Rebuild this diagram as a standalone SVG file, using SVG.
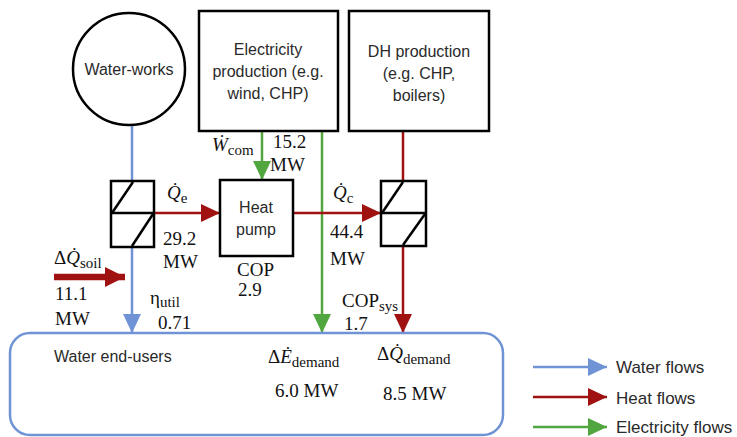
<svg xmlns="http://www.w3.org/2000/svg" width="737" height="437" viewBox="0 0 737 437">
<style>
.box{fill:#fff;stroke:#000;stroke-width:2.5}
.hx{fill:none;stroke:#000;stroke-width:2.5}
.sans{font-family:"Liberation Sans",Arial,sans-serif;font-size:16px;fill:#2a2a2a}
.leg{font-size:17px}
.ser{font-family:"Liberation Serif","DejaVu Serif",serif;font-size:19px;fill:#111}
.it{font-style:italic}
.sub{font-size:15px}
.w{stroke:#6f93d5;stroke-width:2.5;fill:none}
.h{stroke:#a01212;stroke-width:2.5;fill:none}
.e{stroke:#52a640;stroke-width:2.5;fill:none}
</style>
<defs>
<marker id="aw" markerUnits="userSpaceOnUse" markerWidth="20" markerHeight="18" refX="19" refY="9" orient="auto"><path d="M0,0 L19,9 L0,18 z" fill="#6f93d5"/></marker>
<marker id="ah" markerUnits="userSpaceOnUse" markerWidth="20" markerHeight="18" refX="19" refY="9" orient="auto"><path d="M0,0 L19,9 L0,18 z" fill="#a01212"/></marker>
<marker id="ae" markerUnits="userSpaceOnUse" markerWidth="20" markerHeight="18" refX="19" refY="9" orient="auto"><path d="M0,0 L19,9 L0,18 z" fill="#52a640"/></marker>
<marker id="ahb" markerUnits="userSpaceOnUse" markerWidth="21" markerHeight="20" refX="20" refY="10" orient="auto"><path d="M0,0 L20,10 L0,20 z" fill="#a01212"/></marker>
</defs>

<g id="connectors">
<line class="w" x1="132" y1="125" x2="132" y2="181"/>
<line class="w" x1="132" y1="247" x2="132" y2="333" marker-end="url(#aw)"/>
<line class="e" x1="262" y1="131" x2="262" y2="180" marker-end="url(#ae)"/>
<line class="e" x1="322" y1="131" x2="322" y2="333" marker-end="url(#ae)"/>
<line class="h" x1="154" y1="213" x2="220" y2="213" marker-end="url(#ah)"/>
<line class="h" x1="293" y1="213" x2="381" y2="213" marker-end="url(#ah)"/>
<line class="h" x1="403" y1="131" x2="403" y2="181"/>
<line class="h" x1="403" y1="246" x2="403" y2="333" marker-end="url(#ah)"/>
<line x1="54" y1="277" x2="125" y2="277" stroke="#a01212" stroke-width="6.5" marker-end="url(#ahb)"/>
</g>

<g id="water-works">
<circle cx="129" cy="69" r="56" class="box"/>
<text x="129" y="75" class="sans" text-anchor="middle">Water-works</text>
</g>

<g id="electricity-production">
<rect x="199" y="11" width="139" height="120" class="box"/>
<text class="sans" text-anchor="middle"><tspan x="268" y="55">Electricity</tspan><tspan x="268" y="77">production (e.g.</tspan><tspan x="268" y="99">wind, CHP)</tspan></text>
</g>

<g id="dh-production">
<rect x="349" y="11" width="140" height="120" class="box"/>
<text class="sans" text-anchor="middle"><tspan x="419" y="57">DH production</tspan><tspan x="419" y="79">(e.g. CHP,</tspan><tspan x="419" y="101">boilers)</tspan></text>
</g>

<g id="hx1">
<rect x="111" y="181" width="43" height="66" class="hx"/>
<line x1="111" y1="213" x2="154" y2="213" class="hx"/>
<line x1="112" y1="213" x2="133" y2="182" class="hx"/>
<line x1="132" y1="246" x2="153" y2="214" class="hx"/>
</g>

<g id="heat-pump">
<rect x="220" y="180" width="73" height="76" class="box"/>
<text class="sans" text-anchor="middle"><tspan x="256" y="213">Heat</tspan><tspan x="256" y="235">pump</tspan></text>
</g>

<g id="hx2">
<rect x="381" y="181" width="45" height="65" class="hx"/>
<line x1="381" y1="213" x2="426" y2="213" class="hx"/>
<line x1="382" y1="213" x2="403" y2="182" class="hx"/>
<line x1="403" y1="245" x2="425" y2="214" class="hx"/>
</g>

<g id="water-end-users">
<rect x="10" y="333" width="493" height="102" rx="20" fill="none" stroke="#6f93d5" stroke-width="2.5"/>
<text x="54" y="362" class="sans">Water end-users</text>
<text x="268" y="363" class="ser">Δ<tspan class="it">Ė</tspan><tspan class="sub" dy="4">demand</tspan></text>
<text x="275" y="397" class="ser">6.0 MW</text>
<text x="377" y="360" class="ser">Δ<tspan class="it">Q̇</tspan><tspan class="sub" dy="4">demand</tspan></text>
<text x="383" y="400" class="ser">8.5 MW</text>
</g>

<g id="labels">
<text x="212" y="151" class="ser"><tspan class="it">Ẇ</tspan><tspan class="sub" dy="4">com</tspan></text>
<text x="273" y="148" class="ser">15.2</text>
<text x="270" y="171" class="ser">MW</text>
<text x="167" y="199" class="ser"><tspan class="it">Q̇</tspan><tspan class="sub" dy="4">e</tspan></text>
<text x="163" y="245" class="ser">29.2</text>
<text x="163" y="268" class="ser">MW</text>
<text x="237" y="276" class="ser">COP</text>
<text x="238" y="296" class="ser">2.9</text>
<text x="54" y="264" class="ser">Δ<tspan class="it">Q̇</tspan><tspan class="sub" dy="4">soil</tspan></text>
<text x="55" y="300" class="ser">11.1</text>
<text x="55" y="325" class="ser">MW</text>
<text x="150" y="304" class="ser">η<tspan class="sub" dy="3">util</tspan></text>
<text x="158" y="329" class="ser">0.71</text>
<text x="333" y="199" class="ser"><tspan class="it">Q̇</tspan><tspan class="sub" dy="4">c</tspan></text>
<text x="330" y="238" class="ser">44.4</text>
<text x="330" y="265" class="ser">MW</text>
<text x="342" y="307" class="ser">COP<tspan class="sub" dy="4">sys</tspan></text>
<text x="344" y="330" class="ser">1.7</text>
</g>

<g id="legend">
<line class="w" x1="533" y1="367" x2="607" y2="367" marker-end="url(#aw)"/>
<text x="616" y="373" class="sans leg">Water flows</text>
<line class="h" x1="533" y1="397" x2="607" y2="397" marker-end="url(#ah)"/>
<text x="616" y="404" class="sans leg">Heat flows</text>
<line class="e" x1="533" y1="427" x2="607" y2="427" marker-end="url(#ae)"/>
<text x="616" y="433" class="sans leg">Electricity flows</text>
</g>
</svg>
